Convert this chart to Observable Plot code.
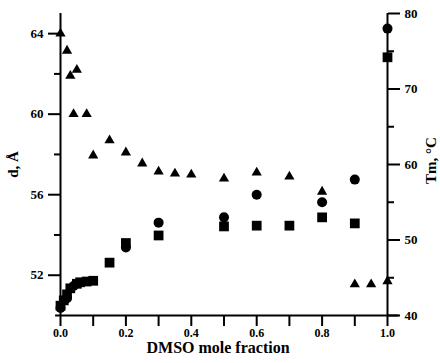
<!DOCTYPE html>
<html><head><meta charset="utf-8">
<script src="https://cdn.jsdelivr.net/npm/d3@7"></script>
<script src="https://cdn.jsdelivr.net/npm/@observablehq/plot@0.6"></script>
<style>body{margin:0;background:#fff}</style>
</head><body><div id="chart"></div>
<script>
// Triangles: d (Å), left axis
const triX = [0, 0.02, 0.03, 0.04, 0.05, 0.08, 0.1, 0.15, 0.2, 0.25, 0.3, 0.35, 0.4, 0.5, 0.6, 0.7, 0.8, 0.9, 0.95, 1.0];
const triD = [64.0, 63.15, 61.9, 60.0, 62.2, 60.0, 57.95, 58.7, 58.1, 57.55, 57.15, 57.05, 57.0, 56.8, 57.1, 56.9, 56.15, 51.55, 51.55, 51.7];
// Circles: Tm (°C), right axis
const circX = [0, 0.02, 0.04, 0.2, 0.3, 0.5, 0.6, 0.8, 0.9, 1.0];
const circT = [41.0, 42.3, 43.9, 49.0, 52.3, 53.0, 56.0, 55.0, 58.0, 78.0];
// Squares: Tm (°C), right axis
const sqX = [0, 0.01, 0.02, 0.03, 0.05, 0.06, 0.08, 0.1, 0.15, 0.2, 0.3, 0.5, 0.6, 0.7, 0.8, 0.9, 1.0];
const sqT = [41.3, 42.0, 42.8, 43.6, 44.2, 44.4, 44.5, 44.6, 47.0, 49.6, 50.6, 51.8, 51.9, 51.9, 53.0, 52.2, 74.2];
// Ticks
const xMajor = [0, 0.2, 0.4, 0.6, 0.8, 1.0];
const xMinor = [0.1, 0.3, 0.5, 0.7, 0.9];
const dMajor = [52, 56, 60, 64];
const dMinor = [54, 58, 62];
const tMajor = [40, 50, 60, 70, 80];
const tMinor = [45, 55, 65, 75];

const dMin = 50, dMax = 65, tMin = 40, tMax = 80;
const toD = t => dMin + (t - tMin) * (dMax - dMin) / (tMax - tMin);
const fromD = d => tMin + (d - dMin) * (tMax - tMin) / (dMax - dMin);

const tri = triX.map((x, i) => ({x, y: triD[i]}));
const circ = circX.map((x, i) => ({x, y: toD(circT[i])}));
const sq = sqX.map((x, i) => ({x, y: toD(sqT[i])}));

const font = "'Liberation Serif', 'Times New Roman', serif";
const plot = Plot.plot({
  width: 440, height: 363,
  marginLeft: 60, marginRight: 53, marginTop: 13, marginBottom: 48,
  style: {fontFamily: font, fontSize: "13px", fontWeight: "bold", background: "#fff", color: "#000"},
  x: {domain: [0, 1]},
  y: {domain: [dMin, dMax]},
  marks: [
    Plot.ruleX([0], {y1: dMin, y2: dMax, strokeWidth: 2}),
    Plot.ruleX([1], {y1: dMin, y2: dMax, strokeWidth: 2}),
    Plot.ruleY([dMin], {x1: -0.015, x2: 1.035, strokeWidth: 2}),
    Plot.axisX(xMajor, {tickSize: 11, tickPadding: 2, tickFormat: d => d.toFixed(1), label: null, strokeWidth: 2, fontSize: 12}),
    Plot.axisX(xMinor, {tickSize: 11, tickFormat: () => "", label: null, strokeWidth: 2}),
    Plot.axisY(dMajor, {anchor: "left", tickSize: 12, tickPadding: 5, label: null, strokeWidth: 2, fontSize: 13}),
    Plot.axisY(dMinor, {anchor: "left", tickSize: 6, tickFormat: () => "", label: null, strokeWidth: 2}),
    Plot.axisY(tMajor.map(toD), {anchor: "right", tickSize: 12, tickPadding: 5, tickFormat: d => String(Math.round(fromD(d))), label: null, strokeWidth: 2, fontSize: 13}),
    Plot.axisY(tMinor.map(toD), {anchor: "right", tickSize: 6, tickFormat: () => "", label: null, strokeWidth: 2}),
    Plot.dot(sq, {x: "x", y: "y", symbol: "square", r: 5.5, fill: "#000", stroke: "none"}),
    Plot.dot(circ, {x: "x", y: "y", symbol: "circle", r: 5, fill: "#000", stroke: "none"}),
    Plot.dot(tri, {x: "x", y: "y", symbol: "triangle", r: 3.8, fill: "#000", stroke: "none"}),
    Plot.text(["d, Å"], {frameAnchor: "left", dx: -47, rotate: -90, textAnchor: "middle", lineAnchor: "middle", fontSize: 15}),
    Plot.text(["Tm, °C"], {frameAnchor: "right", dx: 44, dy: -4, rotate: -90, textAnchor: "middle", lineAnchor: "middle", fontSize: 15}),
    Plot.text(["DMSO mole fraction"], {frameAnchor: "bottom", dy: 32, dx: -6, textAnchor: "middle", lineAnchor: "middle", fontSize: 16})
  ]
});
document.getElementById("chart").appendChild(plot);
</script>
</body></html>
